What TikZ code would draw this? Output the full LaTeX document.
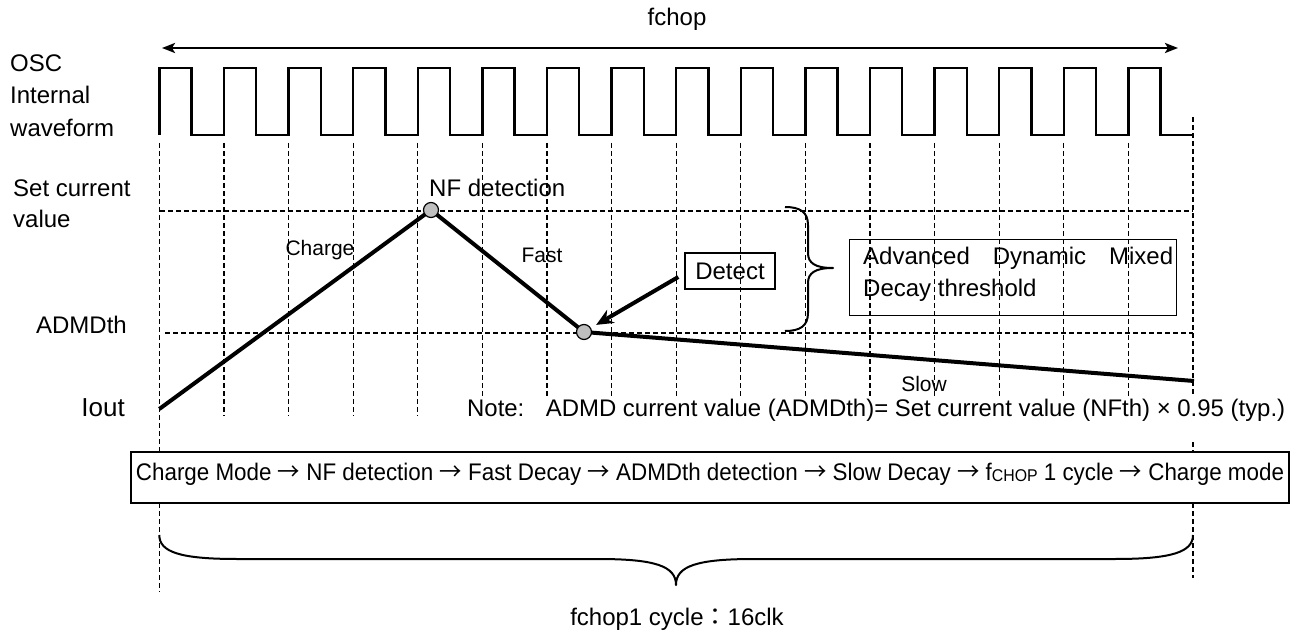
\documentclass[tikz,border=0pt]{standalone}
\usepackage{fontspec}
\setmainfont{Liberation Sans}
\newfontfamily\cjkfont{Noto Sans CJK JP}
\newcommand{\rarr}{{\cjkfont →}}
\usetikzlibrary{arrows.meta,calc}
\begin{document}
\begin{tikzpicture}[x=1pt,y=-1pt,
  gridline/.style={dash pattern=on 5pt off 3pt, line width=1.2pt},
  wave/.style={line width=2.4pt, line join=miter},
  curr/.style={line width=4pt, line join=round},
  dot/.style={circle, draw, fill=black!25, line width=1.2pt, minimum size=15pt, inner sep=0pt},
  lbl/.style={font=\fontsize{24}{29}\selectfont, inner sep=0pt},
  slbl/.style={font=\fontsize{21}{25}\selectfont, inner sep=0pt},
  bracestyle/.style={line width=2pt, line join=round},
  box/.style={draw, line width=1.4pt, inner sep=0pt}]
\useasboundingbox (0,0) rectangle (1299,631);

% top double arrow
\node[lbl, anchor=base] (fchop) at (677,26) {fchop};
\coordinate (arrL) at (162,48);
\coordinate (arrR) at (1178,48);
\draw[line width=2.4pt, {Stealth[length=13pt,width=10pt,inset=3pt]}-{Stealth[length=13pt,width=10pt,inset=3pt]}] (arrL) -- (arrR);

% waveform
\draw[wave] (159.3,135) \foreach \k in {0,...,15} { -- ++(0,-67) -- ++(32.3,0) -- ++(0,67) -- ++(32.3,0) };

% vertical dashed grid
\foreach \k in {1,...,4} \draw[gridline] ({159.3+64.6*\k},143) -- ({159.3+64.6*\k},416);
\foreach \k in {5,...,15} \draw[gridline] ({159.3+64.6*\k},143) -- ({159.3+64.6*\k},396);
\draw[gridline] (159.3,143) -- (159.3,452);
\draw[gridline] (159.3,503) -- (159.3,592);
\draw[gridline] (1193,117) -- (1193,396);
\draw[gridline] (1193,442) -- (1193,452);
\draw[gridline] (1193,503) -- (1193,578);

% horizontal dashed
\draw[gridline] (160,211) -- (1193,211);
\draw[gridline] (165,333) -- (1193,333);

% left labels
\node[lbl, anchor=base west] (osc1) at (10,72) {OSC};
\node[lbl, anchor=base west] (osc2) at (10,104) {Internal};
\node[lbl, anchor=base west] (osc3) at (10,137) {waveform};
\node[lbl, anchor=base west] (set1) at (13,197) {Set current};
\node[lbl, anchor=base west] (set2) at (13,228) {value};
\node[lbl, anchor=base east] (admdth) at (127,333) {ADMDth};
\node[font=\fontsize{26}{30}\selectfont, inner sep=0pt, anchor=base east] (iout) at (125,416) {Iout};

% current waveform
\coordinate (p0) at (159.3,409);
\coordinate (p1) at (431,210);
\coordinate (p2) at (584,332);
\coordinate (p3) at (1194,381);
\draw[curr] (p0) -- (p1) -- (p2) -- (p3);
\node[dot] (nf) at (p1) {};
\node[dot] (det) at (p2) {};

\node[lbl, anchor=base west] (nflbl) at (429,197) {NF detection};
\node[slbl, anchor=base] (charge) at (320,255) {Charge};
\node[slbl, anchor=base] (fast) at (542,263) {Fast};
\node[slbl, anchor=base] (slow) at (924,391) {Slow};

% Detect box and arrow
\node[box, lbl, minimum width=90pt, minimum height=36pt] (detect) at (730,271) {Detect};
\draw[line width=4pt, shorten >=6pt, -{Stealth[length=17pt,width=15pt]}] ($(detect.west)+(-6,6)$) -- (det);

% right brace
\coordinate (rb1) at (785,207);
\coordinate (rb2) at (785,331);
\draw[bracestyle] (rb1) .. controls (800,207) and (808,212) .. (808,225) -- (808,253)
  .. controls (808,263) and (815,268) .. (833,268)
  .. controls (815,268) and (808,273) .. (808,283) -- (808,313)
  .. controls (808,326) and (800,331) .. (rb2);

% ADMD box
\node[box, anchor=north west, minimum width=327pt, minimum height=76pt] (admdbox) at (849,239) {};
\node[lbl, anchor=base west] (admd1) at (863,265) {\makebox[310pt][s]{Advanced Dynamic Mixed}};
\node[lbl, anchor=base west] (admd2) at (863,297) {Decay threshold};

% note
\node[lbl, anchor=base west] (note) at (467,416) {\resizebox{818pt}{\height}{Note:\hspace{0.9em}ADMD current value (ADMDth)= Set current value (NFth) × 0.95 (typ.)}};

% flow box
\node[box, lbl, minimum width=1158pt, minimum height=51pt, text height=17pt, text depth=12pt] (flow) at (710,477.5)
  {\resizebox{1148pt}{\height}{Charge Mode \rarr{} NF detection \rarr{} Fast Decay \rarr{} ADMDth detection \rarr{} Slow Decay \rarr{} f{\fontsize{17}{17}\selectfont\raisebox{-1.5pt}{CHOP}} 1 cycle \rarr{} Charge mode}};

% bottom brace
\coordinate (bb1) at (159.3,535);
\coordinate (bb2) at (1193,535);
\draw[bracestyle] (bb1) .. controls (159.3,552) and (180,559) .. (237,559) -- (598,559)
  .. controls (655,559) and (676,566) .. (676,585)
  .. controls (676,566) and (697,559) .. (754,559) -- (1115,559)
  .. controls (1172,559) and (1193,552) .. (bb2);
\node[lbl, anchor=base] (cycle) at (677,625) {fchop1 cycle{\cjkfont ：}16clk};
\end{tikzpicture}
\end{document}
